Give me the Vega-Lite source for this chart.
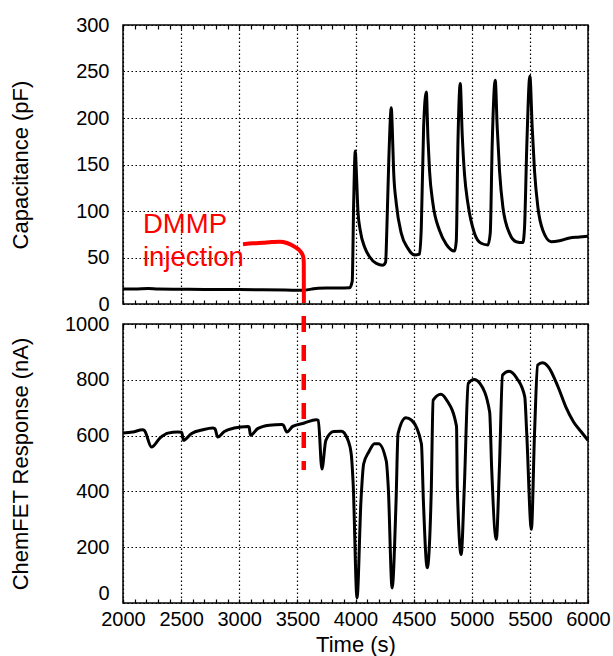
{
  "$schema": "https://vega.github.io/schema/vega-lite/v6.json",
  "padding": {"left": 8, "top": 14, "right": 5, "bottom": 2},
  "background": "white",
  "config": {
    "font": "Liberation Sans",
    "view": {"stroke": "black", "strokeWidth": 1.5},
    "axis": {
      "labelFont": "Liberation Sans", "titleFont": "Liberation Sans",
      "labelFontSize": 20, "titleFontSize": 22, "titleFontWeight": "normal",
      "labelColor": "black", "titleColor": "black",
      "gridColor": "black", "gridDash": [1.5, 2.5], "gridWidth": 1.2, "gridOpacity": 1,
      "domain": false, "tickColor": "black", "tickWidth": 1.2, "format": "d"
    }
  },
  "datasets": {
    "cap": [
      {"t": 2000, "c": 16}, {"t": 2100, "c": 16}, {"t": 2220, "c": 16.8}, {"t": 2300, "c": 16}, {"t": 2500, "c": 15.8},
      {"t": 2700, "c": 15.6}, {"t": 3000, "c": 15.5}, {"t": 3200, "c": 15.3}, {"t": 3400, "c": 15}, {"t": 3548, "c": 14.7},
      {"t": 3620, "c": 16}, {"t": 3677, "c": 17}, {"t": 3800, "c": 17.2}, {"t": 3950, "c": 17.6}, {"t": 3972, "c": 24.6},
      {"t": 3984, "c": 107}, {"t": 3998, "c": 164.5}, {"t": 4007, "c": 143}, {"t": 4021, "c": 100}, {"t": 4041, "c": 79},
      {"t": 4079, "c": 61}, {"t": 4121, "c": 50.8}, {"t": 4179, "c": 43.6}, {"t": 4236, "c": 41.8}, {"t": 4259, "c": 45},
      {"t": 4270, "c": 82}, {"t": 4287, "c": 157}, {"t": 4308, "c": 211}, {"t": 4316, "c": 190}, {"t": 4328, "c": 143},
      {"t": 4351, "c": 108}, {"t": 4394, "c": 75.9}, {"t": 4451, "c": 59.8}, {"t": 4508, "c": 52.6}, {"t": 4551, "c": 53.6},
      {"t": 4566, "c": 82}, {"t": 4586, "c": 190}, {"t": 4609, "c": 228}, {"t": 4623, "c": 179}, {"t": 4637, "c": 143},
      {"t": 4666, "c": 108}, {"t": 4723, "c": 79}, {"t": 4781, "c": 64.2}, {"t": 4852, "c": 57}, {"t": 4867, "c": 68},
      {"t": 4881, "c": 172}, {"t": 4901, "c": 237}, {"t": 4918, "c": 182}, {"t": 4938, "c": 139}, {"t": 4967, "c": 108},
      {"t": 5024, "c": 75.9}, {"t": 5081, "c": 65.3}, {"t": 5139, "c": 63.5}, {"t": 5159, "c": 75.9}, {"t": 5176, "c": 172},
      {"t": 5202, "c": 240.5}, {"t": 5219, "c": 190}, {"t": 5239, "c": 143}, {"t": 5268, "c": 104}, {"t": 5325, "c": 75.9},
      {"t": 5382, "c": 67}, {"t": 5440, "c": 66}, {"t": 5454, "c": 82}, {"t": 5474, "c": 172}, {"t": 5500, "c": 245},
      {"t": 5520, "c": 190}, {"t": 5540, "c": 143}, {"t": 5569, "c": 104}, {"t": 5612, "c": 79}, {"t": 5683, "c": 67},
      {"t": 5755, "c": 68}, {"t": 5841, "c": 71}, {"t": 5927, "c": 72}, {"t": 5999, "c": 73}
    ],
    "fet": [
      {"t": 2000, "r": 609}, {"t": 2084, "r": 613}, {"t": 2168, "r": 621}, {"t": 2185, "r": 618}, {"t": 2245, "r": 559},
      {"t": 2319, "r": 592}, {"t": 2386, "r": 609}, {"t": 2470, "r": 613}, {"t": 2505, "r": 612}, {"t": 2520, "r": 583},
      {"t": 2587, "r": 607}, {"t": 2688, "r": 621}, {"t": 2772, "r": 627}, {"t": 2790, "r": 625}, {"t": 2815, "r": 595},
      {"t": 2872, "r": 615}, {"t": 2956, "r": 627}, {"t": 3074, "r": 633}, {"t": 3085, "r": 630}, {"t": 3097, "r": 601},
      {"t": 3158, "r": 625}, {"t": 3258, "r": 637}, {"t": 3366, "r": 640}, {"t": 3380, "r": 637}, {"t": 3409, "r": 613},
      {"t": 3460, "r": 633}, {"t": 3560, "r": 645}, {"t": 3661, "r": 657}, {"t": 3680, "r": 655}, {"t": 3711, "r": 480},
      {"t": 3745, "r": 583}, {"t": 3812, "r": 615}, {"t": 3879, "r": 616}, {"t": 3930, "r": 589}, {"t": 3963, "r": 535},
      {"t": 3980, "r": 426}, {"t": 4013, "r": 18}, {"t": 4047, "r": 366}, {"t": 4070, "r": 498}, {"t": 4114, "r": 541},
      {"t": 4164, "r": 571}, {"t": 4198, "r": 571}, {"t": 4265, "r": 508}, {"t": 4282, "r": 414}, {"t": 4315, "r": 54},
      {"t": 4349, "r": 366}, {"t": 4366, "r": 607}, {"t": 4433, "r": 664}, {"t": 4483, "r": 655}, {"t": 4567, "r": 571},
      {"t": 4584, "r": 366}, {"t": 4617, "r": 126}, {"t": 4651, "r": 390}, {"t": 4668, "r": 727}, {"t": 4735, "r": 748},
      {"t": 4785, "r": 727}, {"t": 4869, "r": 633}, {"t": 4876, "r": 414}, {"t": 4909, "r": 174}, {"t": 4936, "r": 414},
      {"t": 4970, "r": 787}, {"t": 5020, "r": 801}, {"t": 5070, "r": 787}, {"t": 5154, "r": 685}, {"t": 5171, "r": 486},
      {"t": 5211, "r": 228}, {"t": 5238, "r": 486}, {"t": 5265, "r": 817}, {"t": 5322, "r": 831}, {"t": 5389, "r": 805},
      {"t": 5456, "r": 739}, {"t": 5473, "r": 607}, {"t": 5513, "r": 264}, {"t": 5540, "r": 607}, {"t": 5567, "r": 853},
      {"t": 5607, "r": 861}, {"t": 5658, "r": 847}, {"t": 5742, "r": 775}, {"t": 5809, "r": 703}, {"t": 5876, "r": 649},
      {"t": 5943, "r": 613}, {"t": 6000, "r": 583}
    ],
    "arrow": [
      {"t": 3032, "c": 64.2}, {"t": 3120, "c": 65.2}, {"t": 3204, "c": 65.9}, {"t": 3280, "c": 66.6}, {"t": 3350, "c": 67},
      {"t": 3410, "c": 65.6}, {"t": 3462, "c": 62.6}, {"t": 3495, "c": 60}, {"t": 3523, "c": 57}, {"t": 3542, "c": 53.5},
      {"t": 3552, "c": 49.5}, {"t": 3555, "c": 44}, {"t": 3556, "c": 1}
    ],
    "label": [
      {"t": 2172, "c": 76.7, "text": "DMMP"},
      {"t": 2172, "c": 40.9, "text": "injection"}
    ],
    "injection": [{"t": 3555, "v1": 1029, "v2": 477}]
  },
  "spacing": 20,
  "bounds": "flush",
  "vconcat": [
    {
      "width": 465, "height": 279,
      "layer": [
        {
          "data": {"name": "cap"},
          "mark": {"type": "line", "color": "black", "strokeWidth": 3, "strokeJoin": "round", "interpolate": "monotone"},
          "encoding": {
            "x": {"field": "t", "type": "quantitative", "scale": {"domain": [2000, 6000], "nice": false},
              "axis": {"orient": "bottom", "values": [2000,2100,2200,2300,2400,2500,2600,2700,2800,2900,3000,3100,3200,3300,3400,3500,3600,3700,3800,3900,4000,4100,4200,4300,4400,4500,4600,4700,4800,4900,5000,5100,5200,5300,5400,5500,5600,5700,5800,5900,6000],
                "labels": false, "title": null, "tickSize": -4,
                "gridOpacity": {"condition": {"test": "datum.value % 500 === 0", "value": 1}, "value": 0}}},
            "y": {"field": "c", "type": "quantitative", "scale": {"domain": [0, 300], "nice": false},
              "axis": {"values": [0, 50, 100, 150, 200, 250, 300], "ticks": false, "labelPadding": 14,
                "title": "Capacitance (pF)", "titleX": -91, "titleY": 139.5}}
          }
        },
        {
          "data": {"name": "arrow"},
          "mark": {"type": "line", "color": "#ff0000", "strokeWidth": 4, "strokeCap": "butt", "interpolate": "monotone"},
          "encoding": {
            "x": {"field": "t", "type": "quantitative",
              "axis": {"orient": "top", "values": [2000,2100,2200,2300,2400,2500,2600,2700,2800,2900,3000,3100,3200,3300,3400,3500,3600,3700,3800,3900,4000,4100,4200,4300,4400,4500,4600,4700,4800,4900,5000,5100,5200,5300,5400,5500,5600,5700,5800,5900,6000],
                "labels": false, "grid": false, "title": null, "tickSize": -4}},
            "y": {"field": "c", "type": "quantitative", "axis": null}
          }
        },
        {
          "data": {"name": "label"},
          "mark": {"type": "text", "color": "#ff0000", "fontSize": 27.5, "align": "left", "baseline": "alphabetic", "font": "Liberation Sans"},
          "encoding": {
            "x": {"field": "t", "type": "quantitative", "axis": null},
            "y": {"field": "c", "type": "quantitative", "axis": null},
            "text": {"field": "text"}
          }
        }
      ],
      "resolve": {"axis": {"x": "independent", "y": "independent"}}
    },
    {
      "width": 465, "height": 279,
      "layer": [
        {
          "data": {"name": "fet"},
          "mark": {"type": "line", "color": "black", "strokeWidth": 3, "strokeJoin": "round", "interpolate": "monotone"},
          "encoding": {
            "x": {"field": "t", "type": "quantitative", "scale": {"domain": [2000, 6000], "nice": false},
              "axis": {"orient": "bottom", "values": [2000,2100,2200,2300,2400,2500,2600,2700,2800,2900,3000,3100,3200,3300,3400,3500,3600,3700,3800,3900,4000,4100,4200,4300,4400,4500,4600,4700,4800,4900,5000,5100,5200,5300,5400,5500,5600,5700,5800,5900,6000],
                "labelExpr": "datum.value % 500 === 0 ? datum.label : ''", "labelOverlap": false, "labelFlush": false,
                "labelPadding": 10, "title": "Time (s)", "titlePadding": 5, "tickSize": -4,
                "gridOpacity": {"condition": {"test": "datum.value % 500 === 0", "value": 1}, "value": 0}}},
            "y": {"field": "r", "type": "quantitative", "scale": {"domain": [0, 1000], "nice": false},
              "axis": {"values": [0, 200, 400, 600, 800, 1000], "ticks": false, "labelPadding": 14,
                "labelBaseline": {"condition": {"test": "datum.value === 0", "value": "bottom"}, "value": "middle"},
                "title": "ChemFET Response (nA)", "titleX": -91, "titleY": 139.5}}
          }
        },
        {
          "data": {"name": "injection"},
          "mark": {"type": "rule", "color": "#ff0000", "strokeWidth": 4.5, "strokeDash": [16, 13]},
          "encoding": {
            "x": {"field": "t", "type": "quantitative",
              "axis": {"orient": "top", "values": [2000,2100,2200,2300,2400,2500,2600,2700,2800,2900,3000,3100,3200,3300,3400,3500,3600,3700,3800,3900,4000,4100,4200,4300,4400,4500,4600,4700,4800,4900,5000,5100,5200,5300,5400,5500,5600,5700,5800,5900,6000],
                "labels": false, "grid": false, "title": null, "tickSize": -4}},
            "y": {"field": "v1", "type": "quantitative", "axis": null},
            "y2": {"field": "v2"}
          }
        }
      ],
      "resolve": {"axis": {"x": "independent", "y": "independent"}}
    }
  ]
}
